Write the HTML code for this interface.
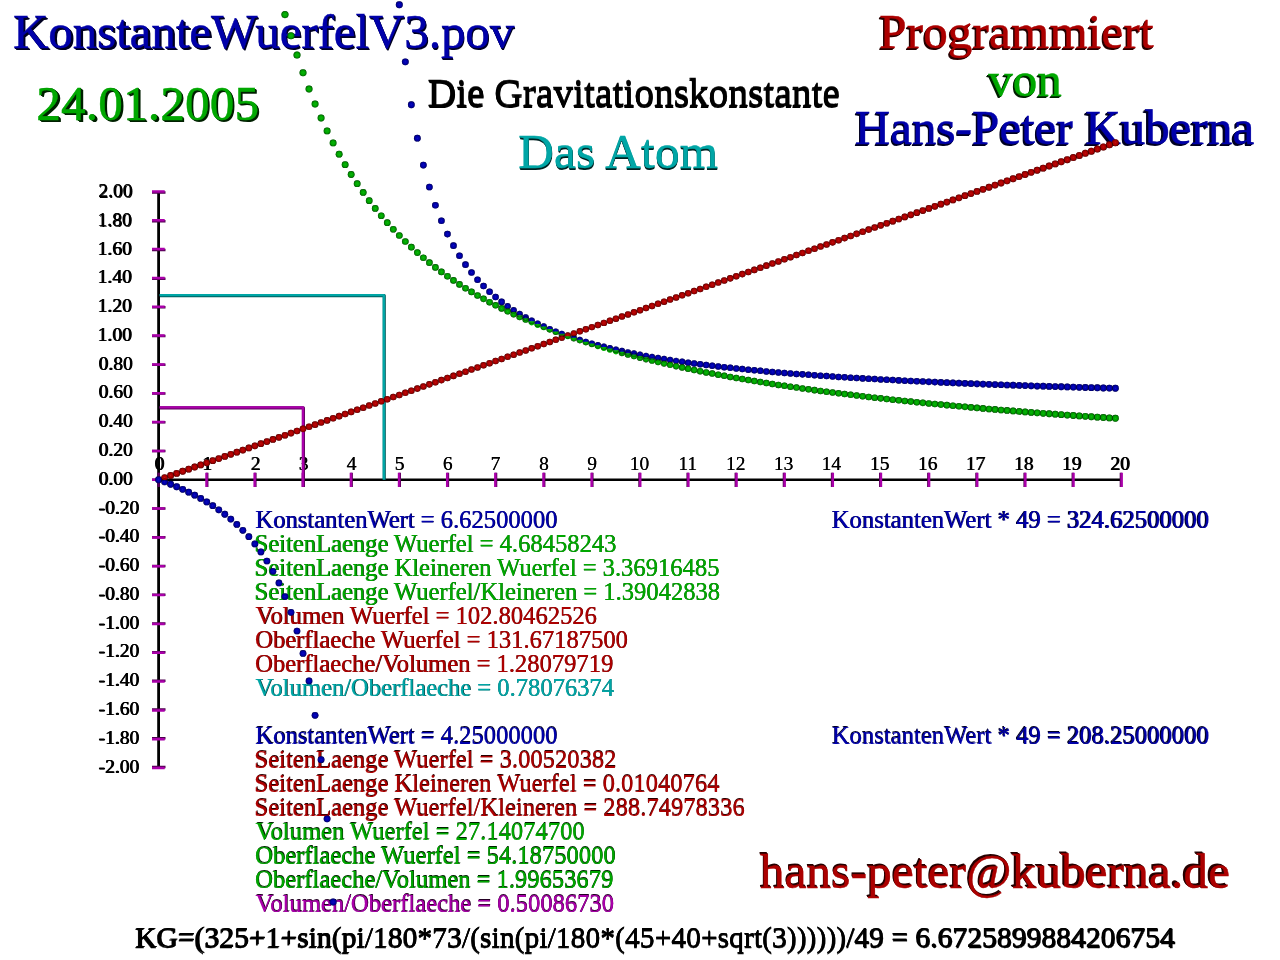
<!DOCTYPE html>
<html lang="de"><head><meta charset="utf-8"><title>KonstanteWuerfelV3.pov</title>
<style>
html,body{margin:0;padding:0;background:#fff}
body{width:1280px;height:960px;position:relative;overflow:hidden;font-family:"Liberation Serif",serif;font-kerning:normal}
.t{position:absolute;line-height:1;white-space:pre;margin:0}
svg{position:absolute;left:0;top:0}
</style></head><body>
<svg width="1280" height="960" viewBox="0 0 1280 960">
<line x1="158.60" y1="191.95" x2="158.60" y2="767.55" stroke="#000" stroke-width="2.8"/><line x1="158.60" y1="479.75" x2="1121.40" y2="479.75" stroke="#000" stroke-width="2.6"/><path d="M207.19 472.65V486.95M255.33 472.65V486.95M303.47 472.65V486.95M351.61 472.65V486.95M399.75 472.65V486.95M447.89 472.65V486.95M496.03 472.65V486.95M544.17 472.65V486.95M592.31 472.65V486.95M639.55 472.65V486.95M687.69 472.65V486.95M735.83 472.65V486.95M783.97 472.65V486.95M832.11 472.65V486.95M880.25 472.65V486.95M928.39 472.65V486.95M976.53 472.65V486.95M1024.67 472.65V486.95M1072.81 472.65V486.95M1120.95 472.65V486.95M152.00 767.05H165.50M152.00 738.32H165.50M152.00 709.59H165.50M152.00 680.86H165.50M152.00 652.13H165.50M152.00 623.40H165.50M152.00 594.67H165.50M152.00 565.94H165.50M152.00 537.21H165.50M152.00 508.48H165.50M152.00 479.75H165.50M152.00 451.02H165.50M152.00 422.29H165.50M152.00 393.56H165.50M152.00 364.83H165.50M152.00 336.10H165.50M152.00 307.37H165.50M152.00 278.64H165.50M152.00 249.91H165.50M152.00 221.18H165.50M152.00 192.45H165.50" stroke="#4c004c" stroke-width="2.5" fill="none"/><path d="M206.52 472.65V486.95M254.66 472.65V486.95M302.79 472.65V486.95M350.93 472.65V486.95M399.07 472.65V486.95M447.22 472.65V486.95M495.36 472.65V486.95M543.50 472.65V486.95M591.63 472.65V486.95M640.23 472.65V486.95M688.37 472.65V486.95M736.51 472.65V486.95M784.65 472.65V486.95M832.79 472.65V486.95M880.93 472.65V486.95M929.07 472.65V486.95M977.21 472.65V486.95M1025.34 472.65V486.95M1073.48 472.65V486.95M1121.62 472.65V486.95M152.00 768.05H164.70M152.00 739.22H164.70M152.00 710.39H164.70M152.00 681.56H164.70M152.00 652.73H164.70M152.00 623.90H164.70M152.00 595.07H164.70M152.00 566.24H164.70M152.00 537.41H164.70M152.00 508.58H164.70M152.00 479.75H164.70M152.00 450.92H164.70M152.00 422.09H164.70M152.00 393.26H164.70M152.00 364.43H164.70M152.00 335.60H164.70M152.00 306.77H164.70M152.00 277.94H164.70M152.00 249.11H164.70M152.00 220.28H164.70M152.00 191.45H164.70" stroke="#aa00aa" stroke-width="2.5" fill="none"/><path d="M158.60 472.65V486.95" stroke="#5d005d" stroke-width="2.6" fill="none"/>
</svg>
<div class="t" style="left:12.88px;top:7.00px;font-size:49.2px;color:#0000aa;-webkit-text-stroke:0.44px #0000aa;letter-spacing:-0.156px;"><span style="text-shadow:0.62px 0.55px 0 #000022,1.24px 1.11px 0 #000022,1.86px 1.66px 0 #000022,2.48px 2.22px 0 #000022">Konstante</span><span style="text-shadow:0.55px 0.74px 0 #000022,1.10px 1.48px 0 #000022,1.64px 2.22px 0 #000022">Wuerfel</span><span style="text-shadow:0.38px 0.74px 0 #000022,0.76px 1.48px 0 #000022,1.13px 2.22px 0 #000022">V3</span><span style="text-shadow:0.26px 0.74px 0 #000022,0.53px 1.48px 0 #000022,0.79px 2.22px 0 #000022">.pov</span></div>
<div class="t" style="left:36.34px;top:79.00px;font-size:49.2px;color:#00a800;-webkit-text-stroke:0.44px #00a800;letter-spacing:0.165px;"><span style="text-shadow:0.67px 0.47px 0 #002000,1.35px 0.94px 0 #002000,2.02px 1.41px 0 #002000,2.69px 1.88px 0 #002000">24.</span><span style="text-shadow:0.60px 0.47px 0 #002000,1.20px 0.94px 0 #002000,1.80px 1.41px 0 #002000,2.40px 1.88px 0 #002000">01.</span><span style="text-shadow:0.67px 0.63px 0 #002000,1.35px 1.25px 0 #002000,2.02px 1.88px 0 #002000">2005</span></div>
<div class="t" style="left:427.47px;top:74.00px;font-size:39.36000000000001px;color:#000000;-webkit-text-stroke:0.35px #000000;letter-spacing:0.021px;"><span style="text-shadow:0.34px 0.77px 0 #000000,0.67px 1.54px 0 #000000">Die </span><span style="text-shadow:0.09px 0.77px 0 #000000,0.18px 1.54px 0 #000000">Gravitations</span><span style="text-shadow:-0.23px 0.77px 0 #000000,-0.47px 1.54px 0 #000000">konstante</span></div>
<div class="t" style="left:518.28px;top:127.00px;font-size:49.2px;color:#00a6a6;-webkit-text-stroke:0.44px #00a6a6;letter-spacing:0.245px;"><span style="text-shadow:0.12px 0.55px 0 #002222,0.24px 1.10px 0 #002222,0.36px 1.65px 0 #002222">Das </span><span style="text-shadow:-0.04px 0.55px 0 #002222,-0.07px 1.10px 0 #002222,-0.11px 1.65px 0 #002222">Atom</span></div>
<div class="t" style="left:879.18px;top:7.00px;font-size:49.2px;color:#ac0000;-webkit-text-stroke:0.44px #ac0000;letter-spacing:0.122px;"><span style="text-shadow:-0.59px 0.74px 0 #260000,-1.18px 1.48px 0 #260000,-1.77px 2.22px 0 #260000">Programmiert</span></div>
<div class="t" style="left:988.17px;top:55.00px;font-size:49.2px;color:#00a800;-webkit-text-stroke:0.44px #00a800;"><span style="text-shadow:-0.60px 0.66px 0 #002000,-1.21px 1.33px 0 #002000,-1.81px 1.99px 0 #002000">von</span></div>
<div class="t" style="left:854.78px;top:103.00px;font-size:49.2px;color:#0000aa;-webkit-text-stroke:0.44px #0000aa;letter-spacing:-0.035px;"><span style="text-shadow:-0.43px 0.59px 0 #000022,-0.86px 1.18px 0 #000022,-1.29px 1.77px 0 #000022">Hans-</span><span style="text-shadow:-0.61px 0.59px 0 #000022,-1.22px 1.18px 0 #000022,-1.83px 1.77px 0 #000022">Peter </span><span style="text-shadow:-0.62px 0.44px 0 #000022,-1.25px 0.88px 0 #000022,-1.87px 1.32px 0 #000022,-2.49px 1.77px 0 #000022">Kuberna</span></div>
<div class="t" style="left:759.92px;top:847.00px;font-size:49.2px;color:#ac0000;-webkit-text-stroke:0.44px #ac0000;letter-spacing:0.144px;"><span style="text-shadow:-0.27px -0.58px 0 #260000,-0.54px -1.15px 0 #260000,-0.82px -1.73px 0 #260000">hans-</span><span style="text-shadow:-0.43px -0.58px 0 #260000,-0.87px -1.15px 0 #260000,-1.30px -1.73px 0 #260000">peter</span><span style="text-shadow:-0.55px -0.58px 0 #260000,-1.09px -1.15px 0 #260000,-1.64px -1.73px 0 #260000">@</span><span style="text-shadow:-0.71px -0.58px 0 #260000,-1.41px -1.15px 0 #260000,-2.12px -1.73px 0 #260000">kuberna</span><span style="text-shadow:-0.66px -0.43px 0 #260000,-1.32px -0.86px 0 #260000,-1.98px -1.30px 0 #260000,-2.64px -1.73px 0 #260000">.de</span></div>
<div class="t" style="left:134.65px;top:924.00px;font-size:29.52px;color:#000000;-webkit-text-stroke:0.27px #000000;letter-spacing:0.069px;"><span style="text-shadow:0.66px -0.61px 0 #000000,1.33px -1.22px 0 #000000">KG=(</span><span style="text-shadow:0.57px -0.61px 0 #000000,1.14px -1.22px 0 #000000">325+</span><span style="text-shadow:0.51px -0.61px 0 #000000,1.01px -1.22px 0 #000000">1+</span><span style="text-shadow:0.45px -0.61px 0 #000000,0.91px -1.22px 0 #000000">sin(</span><span style="text-shadow:0.40px -0.61px 0 #000000,0.80px -1.22px 0 #000000">pi/</span><span style="text-shadow:0.34px -0.61px 0 #000000,0.67px -1.22px 0 #000000">180*</span><span style="text-shadow:0.26px -0.61px 0 #000000,0.52px -1.22px 0 #000000">73/(</span><span style="text-shadow:0.19px -0.61px 0 #000000,0.39px -1.22px 0 #000000">sin(</span><span style="text-shadow:0.14px -0.61px 0 #000000,0.28px -1.22px 0 #000000">pi/</span><span style="text-shadow:0.07px -0.61px 0 #000000,0.14px -1.22px 0 #000000">180*(</span><span style="text-shadow:-0.01px -0.61px 0 #000000,-0.02px -1.22px 0 #000000">45+</span><span style="text-shadow:-0.08px -0.61px 0 #000000,-0.15px -1.22px 0 #000000">40+</span><span style="text-shadow:-0.15px -0.61px 0 #000000,-0.30px -1.22px 0 #000000">sqrt(</span><span style="text-shadow:-0.24px -0.61px 0 #000000,-0.49px -1.22px 0 #000000">3))))))/</span><span style="text-shadow:-0.33px -0.61px 0 #000000,-0.66px -1.22px 0 #000000">49 </span><span style="text-shadow:-0.37px -0.61px 0 #000000,-0.74px -1.22px 0 #000000">= </span><span style="text-shadow:-0.57px -0.61px 0 #000000,-1.14px -1.22px 0 #000000">6.6725899884206754</span></div>
<div class="t" style="left:255.19px;top:508.00px;font-size:24.6px;color:#0000aa;-webkit-text-stroke:0.22px #0000aa;"><span style="text-shadow:0.71px -0.04px 0 #000022">KonstantenWert </span><span style="text-shadow:0.49px -0.04px 0 #000022">= </span><span style="text-shadow:0.33px -0.04px 0 #000022">6.62500000</span></div>
<div class="t" style="left:254.25px;top:532.00px;font-size:24.6px;color:#00a800;-webkit-text-stroke:0.22px #00a800;"><span style="text-shadow:0.74px -0.09px 0 #002000">SeitenLaenge </span><span style="text-shadow:0.48px -0.09px 0 #002000">Wuerfel </span><span style="text-shadow:0.35px -0.09px 0 #002000">= </span><span style="text-shadow:0.19px -0.09px 0 #002000">4.68458243</span></div>
<div class="t" style="left:254.25px;top:556.00px;font-size:24.6px;color:#00a800;-webkit-text-stroke:0.22px #00a800;"><span style="text-shadow:0.74px -0.15px 0 #002000">SeitenLaenge </span><span style="text-shadow:0.46px -0.15px 0 #002000">Kleineren </span><span style="text-shadow:0.23px -0.15px 0 #002000">Wuerfel </span><span style="text-shadow:0.11px -0.15px 0 #002000">= </span><span style="text-shadow:-0.05px -0.15px 0 #002000">3.36916485</span></div>
<div class="t" style="left:254.25px;top:580.00px;font-size:24.6px;color:#00a800;-webkit-text-stroke:0.22px #00a800;"><span style="text-shadow:0.74px -0.21px 0 #002000">SeitenLaenge </span><span style="text-shadow:0.36px -0.21px 0 #002000">Wuerfel/Kleineren </span><span style="text-shadow:0.11px -0.21px 0 #002000">= </span><span style="text-shadow:-0.05px -0.21px 0 #002000">1.39042838</span></div>
<div class="t" style="left:255.62px;top:604.00px;font-size:24.6px;color:#ac0000;-webkit-text-stroke:0.22px #ac0000;"><span style="text-shadow:0.79px -0.26px 0 #260000">Volumen </span><span style="text-shadow:0.58px -0.26px 0 #260000">Wuerfel </span><span style="text-shadow:0.46px -0.26px 0 #260000">= </span><span style="text-shadow:0.27px -0.26px 0 #260000">102.80462526</span></div>
<div class="t" style="left:254.89px;top:628.00px;font-size:24.6px;color:#ac0000;-webkit-text-stroke:0.22px #ac0000;"><span style="text-shadow:0.76px -0.32px 0 #260000">Oberflaeche </span><span style="text-shadow:0.51px -0.32px 0 #260000">Wuerfel </span><span style="text-shadow:0.38px -0.32px 0 #260000">= </span><span style="text-shadow:0.19px -0.32px 0 #260000">131.67187500</span></div>
<div class="t" style="left:254.89px;top:652.00px;font-size:24.6px;color:#ac0000;-webkit-text-stroke:0.22px #ac0000;"><span style="text-shadow:0.64px -0.37px 0 #260000">Oberflaeche/Volumen </span><span style="text-shadow:0.36px -0.37px 0 #260000">= </span><span style="text-shadow:0.20px -0.37px 0 #260000">1.28079719</span></div>
<div class="t" style="left:255.62px;top:676.00px;font-size:24.6px;color:#00a6a6;-webkit-text-stroke:0.22px #00a6a6;"><span style="text-shadow:0.64px -0.43px 0 #002222">Volumen/Oberflaeche </span><span style="text-shadow:0.36px -0.43px 0 #002222">= </span><span style="text-shadow:0.20px -0.43px 0 #002222">0.78076374</span></div>
<div class="t" style="left:255.19px;top:724.00px;font-size:24.6px;color:#0000aa;-webkit-text-stroke:0.22px #0000aa;"><span style="text-shadow:0.71px -0.54px 0 #000022">KonstantenWert </span><span style="text-shadow:0.49px -0.54px 0 #000022">= </span><span style="text-shadow:0.33px -0.54px 0 #000022">4.25000000</span></div>
<div class="t" style="left:254.25px;top:748.00px;font-size:24.6px;color:#ac0000;-webkit-text-stroke:0.22px #ac0000;"><span style="text-shadow:0.74px -0.60px 0 #260000">SeitenLaenge </span><span style="text-shadow:0.48px -0.60px 0 #260000">Wuerfel </span><span style="text-shadow:0.35px -0.60px 0 #260000">= </span><span style="text-shadow:0.19px -0.60px 0 #260000">3.00520382</span></div>
<div class="t" style="left:254.25px;top:772.00px;font-size:24.6px;color:#ac0000;-webkit-text-stroke:0.22px #ac0000;"><span style="text-shadow:0.74px -0.66px 0 #260000">SeitenLaenge </span><span style="text-shadow:0.46px -0.66px 0 #260000">Kleineren </span><span style="text-shadow:0.23px -0.66px 0 #260000">Wuerfel </span><span style="text-shadow:0.11px -0.66px 0 #260000">= </span><span style="text-shadow:-0.05px -0.66px 0 #260000">0.01040764</span></div>
<div class="t" style="left:254.25px;top:796.00px;font-size:24.6px;color:#ac0000;-webkit-text-stroke:0.22px #ac0000;"><span style="text-shadow:0.74px -0.71px 0 #260000">SeitenLaenge </span><span style="text-shadow:0.36px -0.71px 0 #260000">Wuerfel/Kleineren </span><span style="text-shadow:0.11px -0.71px 0 #260000">= </span><span style="text-shadow:-0.08px -0.71px 0 #260000">288.74978336</span></div>
<div class="t" style="left:255.62px;top:820.00px;font-size:24.6px;color:#00a800;-webkit-text-stroke:0.22px #00a800;"><span style="text-shadow:0.79px -0.77px 0 #002000">Volumen </span><span style="text-shadow:0.58px -0.77px 0 #002000">Wuerfel </span><span style="text-shadow:0.46px -0.77px 0 #002000">= </span><span style="text-shadow:0.28px -0.77px 0 #002000">27.14074700</span></div>
<div class="t" style="left:254.89px;top:844.00px;font-size:24.6px;color:#00a800;-webkit-text-stroke:0.22px #00a800;"><span style="text-shadow:0.38px -0.41px 0 #002000,0.76px -0.83px 0 #002000">Oberflaeche </span><span style="text-shadow:0.25px -0.41px 0 #002000,0.51px -0.83px 0 #002000">Wuerfel </span><span style="text-shadow:0.19px -0.41px 0 #002000,0.38px -0.83px 0 #002000">= </span><span style="text-shadow:0.10px -0.41px 0 #002000,0.21px -0.83px 0 #002000">54.18750000</span></div>
<div class="t" style="left:254.89px;top:868.00px;font-size:24.6px;color:#00a800;-webkit-text-stroke:0.22px #00a800;"><span style="text-shadow:0.32px -0.44px 0 #002000,0.64px -0.88px 0 #002000">Oberflaeche/Volumen </span><span style="text-shadow:0.18px -0.44px 0 #002000,0.36px -0.88px 0 #002000">= </span><span style="text-shadow:0.10px -0.44px 0 #002000,0.20px -0.88px 0 #002000">1.99653679</span></div>
<div class="t" style="left:255.62px;top:892.00px;font-size:24.6px;color:#aa00aa;-webkit-text-stroke:0.22px #aa00aa;"><span style="text-shadow:0.32px -0.47px 0 #240024,0.64px -0.94px 0 #240024">Volumen/Oberflaeche </span><span style="text-shadow:0.18px -0.47px 0 #240024,0.36px -0.94px 0 #240024">= </span><span style="text-shadow:0.10px -0.47px 0 #240024,0.20px -0.94px 0 #240024">0.50086730</span></div>
<div class="t" style="left:832.09px;top:508.00px;font-size:24.6px;color:#0000aa;-webkit-text-stroke:0.22px #0000aa;letter-spacing:0.036px;"><span style="text-shadow:-0.65px -0.04px 0 #000022">KonstantenWert </span><span style="text-shadow:-0.43px -0.02px 0 #000022,-0.86px -0.04px 0 #000022">* </span><span style="text-shadow:-0.46px -0.02px 0 #000022,-0.92px -0.04px 0 #000022">49 </span><span style="text-shadow:-0.49px -0.02px 0 #000022,-0.98px -0.04px 0 #000022">= </span><span style="text-shadow:-0.59px -0.02px 0 #000022,-1.17px -0.04px 0 #000022">324.62500000</span></div>
<div class="t" style="left:832.09px;top:724.00px;font-size:24.6px;color:#0000aa;-webkit-text-stroke:0.22px #0000aa;letter-spacing:0.036px;"><span style="text-shadow:-0.65px -0.54px 0 #000022">KonstantenWert </span><span style="text-shadow:-0.43px -0.27px 0 #000022,-0.86px -0.54px 0 #000022">* </span><span style="text-shadow:-0.46px -0.27px 0 #000022,-0.92px -0.54px 0 #000022">49 </span><span style="text-shadow:-0.49px -0.27px 0 #000022,-0.98px -0.54px 0 #000022">= </span><span style="text-shadow:-0.59px -0.27px 0 #000022,-1.17px -0.54px 0 #000022">208.25000000</span></div>
<div class="t" style="left:98.28px;top:757.00px;font-size:19.5px;color:#000000;-webkit-text-stroke:0.04px #000000;"><span style="text-shadow:0.49px -0.24px 0 #000000,0.97px -0.49px 0 #000000">-2.00</span></div>
<div class="t" style="left:98.28px;top:728.00px;font-size:19.5px;color:#000000;-webkit-text-stroke:0.04px #000000;"><span style="text-shadow:0.49px -0.22px 0 #000000,0.97px -0.43px 0 #000000">-1.80</span></div>
<div class="t" style="left:98.28px;top:699.00px;font-size:19.5px;color:#000000;-webkit-text-stroke:0.04px #000000;"><span style="text-shadow:0.49px -0.19px 0 #000000,0.97px -0.38px 0 #000000">-1.60</span></div>
<div class="t" style="left:98.28px;top:670.00px;font-size:19.5px;color:#000000;-webkit-text-stroke:0.04px #000000;"><span style="text-shadow:0.49px -0.16px 0 #000000,0.97px -0.33px 0 #000000">-1.40</span></div>
<div class="t" style="left:98.28px;top:641.00px;font-size:19.5px;color:#000000;-webkit-text-stroke:0.04px #000000;"><span style="text-shadow:0.49px -0.14px 0 #000000,0.97px -0.27px 0 #000000">-1.20</span></div>
<div class="t" style="left:98.28px;top:613.00px;font-size:19.5px;color:#000000;-webkit-text-stroke:0.04px #000000;"><span style="text-shadow:0.49px -0.11px 0 #000000,0.97px -0.22px 0 #000000">-1.00</span></div>
<div class="t" style="left:98.28px;top:584.00px;font-size:19.5px;color:#000000;-webkit-text-stroke:0.04px #000000;"><span style="text-shadow:0.49px -0.08px 0 #000000,0.97px -0.17px 0 #000000">-0.80</span></div>
<div class="t" style="left:98.28px;top:555.00px;font-size:19.5px;color:#000000;-webkit-text-stroke:0.04px #000000;"><span style="text-shadow:0.49px -0.06px 0 #000000,0.97px -0.11px 0 #000000">-0.60</span></div>
<div class="t" style="left:98.28px;top:526.00px;font-size:19.5px;color:#000000;-webkit-text-stroke:0.04px #000000;"><span style="text-shadow:0.49px -0.03px 0 #000000,0.97px -0.06px 0 #000000">-0.40</span></div>
<div class="t" style="left:98.28px;top:498.00px;font-size:19.5px;color:#000000;-webkit-text-stroke:0.04px #000000;"><span style="text-shadow:0.49px -0.00px 0 #000000,0.97px -0.00px 0 #000000">-0.20</span></div>
<div class="t" style="left:98.26px;top:469.00px;font-size:19.5px;color:#000000;-webkit-text-stroke:0.04px #000000;"><span style="text-shadow:0.49px 0.02px 0 #000000,0.98px 0.05px 0 #000000">0.00</span></div>
<div class="t" style="left:98.26px;top:440.00px;font-size:19.5px;color:#000000;-webkit-text-stroke:0.04px #000000;"><span style="text-shadow:0.49px 0.05px 0 #000000,0.98px 0.10px 0 #000000">0.20</span></div>
<div class="t" style="left:98.26px;top:411.00px;font-size:19.5px;color:#000000;-webkit-text-stroke:0.04px #000000;"><span style="text-shadow:0.49px 0.08px 0 #000000,0.98px 0.16px 0 #000000">0.40</span></div>
<div class="t" style="left:98.26px;top:382.00px;font-size:19.5px;color:#000000;-webkit-text-stroke:0.04px #000000;"><span style="text-shadow:0.49px 0.10px 0 #000000,0.98px 0.21px 0 #000000">0.60</span></div>
<div class="t" style="left:98.26px;top:354.00px;font-size:19.5px;color:#000000;-webkit-text-stroke:0.04px #000000;"><span style="text-shadow:0.49px 0.13px 0 #000000,0.98px 0.26px 0 #000000">0.80</span></div>
<div class="t" style="left:97.29px;top:325.00px;font-size:19.5px;color:#000000;-webkit-text-stroke:0.04px #000000;"><span style="text-shadow:0.49px 0.16px 0 #000000,0.98px 0.32px 0 #000000">1.00</span></div>
<div class="t" style="left:97.29px;top:296.00px;font-size:19.5px;color:#000000;-webkit-text-stroke:0.04px #000000;"><span style="text-shadow:0.49px 0.19px 0 #000000,0.98px 0.37px 0 #000000">1.20</span></div>
<div class="t" style="left:97.29px;top:267.00px;font-size:19.5px;color:#000000;-webkit-text-stroke:0.04px #000000;"><span style="text-shadow:0.49px 0.21px 0 #000000,0.98px 0.42px 0 #000000">1.40</span></div>
<div class="t" style="left:97.29px;top:239.00px;font-size:19.5px;color:#000000;-webkit-text-stroke:0.04px #000000;"><span style="text-shadow:0.49px 0.24px 0 #000000,0.98px 0.48px 0 #000000">1.60</span></div>
<div class="t" style="left:97.29px;top:210.00px;font-size:19.5px;color:#000000;-webkit-text-stroke:0.04px #000000;"><span style="text-shadow:0.49px 0.27px 0 #000000,0.98px 0.53px 0 #000000">1.80</span></div>
<div class="t" style="left:98.14px;top:181.00px;font-size:19.5px;color:#000000;-webkit-text-stroke:0.04px #000000;"><span style="text-shadow:0.49px 0.29px 0 #000000,0.98px 0.58px 0 #000000">2.00</span></div>
<div class="t" style="left:154.30px;top:454.00px;font-size:19.5px;color:#000000;-webkit-text-stroke:0.04px #000000;"><span style="text-shadow:0.45px 0.04px 0 #000000,0.90px 0.08px 0 #000000">0</span></div>
<div class="t" style="left:202.11px;top:454.00px;font-size:19.5px;color:#000000;-webkit-text-stroke:0.04px #000000;"><span style="text-shadow:0.40px 0.04px 0 #000000,0.81px 0.08px 0 #000000">1</span></div>
<div class="t" style="left:250.58px;top:454.00px;font-size:19.5px;color:#000000;-webkit-text-stroke:0.04px #000000;"><span style="text-shadow:0.72px 0.08px 0 #000000">2</span></div>
<div class="t" style="left:298.46px;top:454.00px;font-size:19.5px;color:#000000;-webkit-text-stroke:0.04px #000000;"><span style="text-shadow:0.63px 0.08px 0 #000000">3</span></div>
<div class="t" style="left:346.59px;top:454.00px;font-size:19.5px;color:#000000;-webkit-text-stroke:0.04px #000000;"><span style="text-shadow:0.54px 0.08px 0 #000000">4</span></div>
<div class="t" style="left:394.53px;top:454.00px;font-size:19.5px;color:#000000;-webkit-text-stroke:0.04px #000000;"><span style="text-shadow:0.45px 0.08px 0 #000000">5</span></div>
<div class="t" style="left:442.67px;top:454.00px;font-size:19.5px;color:#000000;-webkit-text-stroke:0.04px #000000;"><span style="text-shadow:0.36px 0.08px 0 #000000">6</span></div>
<div class="t" style="left:490.52px;top:454.00px;font-size:19.5px;color:#000000;-webkit-text-stroke:0.04px #000000;"><span style="text-shadow:0.27px 0.08px 0 #000000">7</span></div>
<div class="t" style="left:538.96px;top:454.00px;font-size:19.5px;color:#000000;-webkit-text-stroke:0.04px #000000;"><span style="text-shadow:0.18px 0.08px 0 #000000">8</span></div>
<div class="t" style="left:587.13px;top:454.00px;font-size:19.5px;color:#000000;-webkit-text-stroke:0.04px #000000;"><span style="text-shadow:0.09px 0.08px 0 #000000">9</span></div>
<div class="t" style="left:629.76px;top:454.00px;font-size:19.5px;color:#000000;-webkit-text-stroke:0.04px #000000;"><span style="text-shadow:0.00px 0.08px 0 #000000">10</span></div>
<div class="t" style="left:678.42px;top:454.00px;font-size:19.5px;color:#000000;-webkit-text-stroke:0.04px #000000;"><span style="text-shadow:-0.09px 0.08px 0 #000000">11</span></div>
<div class="t" style="left:726.10px;top:454.00px;font-size:19.5px;color:#000000;-webkit-text-stroke:0.04px #000000;"><span style="text-shadow:-0.18px 0.08px 0 #000000">12</span></div>
<div class="t" style="left:774.02px;top:454.00px;font-size:19.5px;color:#000000;-webkit-text-stroke:0.04px #000000;"><span style="text-shadow:-0.27px 0.08px 0 #000000">13</span></div>
<div class="t" style="left:821.87px;top:454.00px;font-size:19.5px;color:#000000;-webkit-text-stroke:0.04px #000000;"><span style="text-shadow:-0.36px 0.08px 0 #000000">14</span></div>
<div class="t" style="left:870.19px;top:454.00px;font-size:19.5px;color:#000000;-webkit-text-stroke:0.04px #000000;"><span style="text-shadow:-0.45px 0.08px 0 #000000">15</span></div>
<div class="t" style="left:918.18px;top:454.00px;font-size:19.5px;color:#000000;-webkit-text-stroke:0.04px #000000;"><span style="text-shadow:-0.54px 0.08px 0 #000000">16</span></div>
<div class="t" style="left:966.25px;top:454.00px;font-size:19.5px;color:#000000;-webkit-text-stroke:0.04px #000000;"><span style="text-shadow:-0.63px 0.08px 0 #000000">17</span></div>
<div class="t" style="left:1014.42px;top:454.00px;font-size:19.5px;color:#000000;-webkit-text-stroke:0.04px #000000;"><span style="text-shadow:-0.72px 0.08px 0 #000000">18</span></div>
<div class="t" style="left:1062.53px;top:454.00px;font-size:19.5px;color:#000000;-webkit-text-stroke:0.04px #000000;"><span style="text-shadow:-0.40px 0.04px 0 #000000,-0.81px 0.08px 0 #000000">19</span></div>
<div class="t" style="left:1111.02px;top:454.00px;font-size:19.5px;color:#000000;-webkit-text-stroke:0.04px #000000;"><span style="text-shadow:-0.45px 0.04px 0 #000000,-0.90px 0.08px 0 #000000">20</span></div>
<svg width="1280" height="960" viewBox="0 0 1280 960">
<path d="M159.80 295.44H384.12V479.75" fill="none" stroke="#005b5b" stroke-width="3.1" stroke-linejoin="round" transform="translate(0.15 0.15)"/><path d="M159.80 295.44H384.12V479.75" fill="none" stroke="#00a6a6" stroke-width="2.3" stroke-linejoin="round" transform="translate(-0.3 -0.3)"/><path d="M159.80 407.68H303.27V486.95" fill="none" stroke="#5d005d" stroke-width="3.1" stroke-linejoin="round" transform="translate(0.15 0.15)"/><path d="M159.80 407.68H303.27V486.95" fill="none" stroke="#aa00aa" stroke-width="2.3" stroke-linejoin="round" transform="translate(-0.3 -0.3)"/>
<defs><radialGradient id="sh" cx="50%" cy="50%" r="50%"><stop offset="0" stop-color="#fff" stop-opacity="0.10"/><stop offset="0.45" stop-color="#000" stop-opacity="0"/><stop offset="0.8" stop-color="#000" stop-opacity="0.22"/><stop offset="1" stop-color="#000" stop-opacity="0.62"/></radialGradient></defs><g fill="#0000b6"><circle cx="158.60" cy="479.75" r="3.44"/><path d="M162.21 479.48L167.02 479.48A3.44 3.44 0 0 1 164.62 485.37L164.62 485.37A3.44 3.44 0 0 1 162.21 479.48Z"/><circle cx="170.63" cy="484.26" r="3.43"/><circle cx="176.65" cy="486.73" r="3.43"/><circle cx="182.67" cy="489.36" r="3.42"/><circle cx="188.69" cy="492.18" r="3.41"/><circle cx="194.70" cy="495.20" r="3.41"/><circle cx="200.72" cy="498.44" r="3.40"/><circle cx="206.74" cy="501.94" r="3.40"/><circle cx="212.76" cy="505.71" r="3.39"/><circle cx="218.77" cy="509.80" r="3.39"/><circle cx="224.79" cy="514.25" r="3.39"/><circle cx="230.81" cy="519.10" r="3.38"/><circle cx="236.83" cy="524.42" r="3.38"/><circle cx="242.84" cy="530.26" r="3.37"/><circle cx="248.86" cy="536.73" r="3.37"/><circle cx="254.88" cy="543.92" r="3.37"/><circle cx="260.90" cy="551.95" r="3.36"/><circle cx="266.91" cy="560.99" r="3.36"/><circle cx="272.93" cy="571.25" r="3.36"/><circle cx="278.95" cy="582.97" r="3.35"/><circle cx="284.97" cy="596.51" r="3.35"/><circle cx="290.99" cy="612.31" r="3.35"/><circle cx="297.00" cy="631.00" r="3.35"/><circle cx="303.02" cy="653.45" r="3.36"/><circle cx="309.04" cy="680.93" r="3.36"/><circle cx="315.06" cy="715.32" r="3.37"/><circle cx="321.07" cy="759.63" r="3.39"/><circle cx="327.09" cy="818.84" r="3.42"/><circle cx="333.11" cy="902.03" r="3.48"/><circle cx="399.30" cy="4.74" r="3.49"/><circle cx="405.32" cy="61.84" r="3.44"/><circle cx="411.34" cy="104.77" r="3.40"/><circle cx="417.35" cy="138.22" r="3.38"/><circle cx="423.37" cy="165.02" r="3.36"/><circle cx="429.39" cy="186.98" r="3.34"/><circle cx="435.40" cy="205.29" r="3.33"/><circle cx="441.42" cy="220.80" r="3.32"/><circle cx="447.44" cy="234.10" r="3.31"/><circle cx="453.46" cy="245.63" r="3.31"/><circle cx="459.48" cy="255.73" r="3.30"/><circle cx="465.49" cy="264.64" r="3.29"/><circle cx="471.51" cy="272.57" r="3.29"/><circle cx="477.53" cy="279.67" r="3.28"/><circle cx="483.54" cy="286.06" r="3.28"/><circle cx="489.56" cy="291.84" r="3.28"/><circle cx="495.58" cy="297.09" r="3.27"/><circle cx="501.60" cy="301.89" r="3.27"/><path d="M507.61 303.03L507.62 303.03A3.27 3.27 0 0 1 509.27 309.11L505.96 309.11A3.27 3.27 0 0 1 507.61 303.03Z"/><path d="M513.63 307.08L513.63 307.08A3.26 3.26 0 0 1 516.02 312.57L511.24 312.57A3.26 3.26 0 0 1 513.63 307.08Z"/><path d="M519.65 310.83L519.65 310.83A3.26 3.26 0 0 1 522.41 315.82L516.89 315.82A3.26 3.26 0 0 1 519.65 310.83Z"/><path d="M525.67 314.29L525.67 314.29A3.26 3.26 0 0 1 528.64 318.88L522.69 318.88A3.26 3.26 0 0 1 525.67 314.29Z"/><path d="M531.68 317.51L531.69 317.51A3.26 3.26 0 0 1 534.78 321.78L528.59 321.78A3.26 3.26 0 0 1 531.68 317.51Z"/><path d="M537.70 320.51L537.70 320.51A3.25 3.25 0 0 1 540.86 324.53L534.54 324.53A3.25 3.25 0 0 1 537.70 320.51Z"/><path d="M543.72 323.31L543.72 323.31A3.25 3.25 0 0 1 546.92 327.14L540.52 327.14A3.25 3.25 0 0 1 543.72 323.31Z"/><path d="M549.74 325.92L549.74 325.92A3.25 3.25 0 0 1 552.96 329.62L546.52 329.62A3.25 3.25 0 0 1 549.74 325.92Z"/><path d="M555.75 328.38L555.76 328.38A3.25 3.25 0 0 1 558.98 331.99L552.53 331.99A3.25 3.25 0 0 1 555.75 328.38Z"/><path d="M561.77 330.68L561.77 330.68A3.25 3.25 0 0 1 565.00 334.24L558.54 334.24A3.25 3.25 0 0 1 561.77 330.68Z"/><path d="M564.59 335.55L570.99 335.55A3.24 3.24 0 0 1 571.02 336.40L564.56 336.40A3.24 3.24 0 0 1 564.59 335.55Z"/><path d="M571.91 335.51L575.70 335.51A3.24 3.24 0 0 1 577.04 338.46L570.58 338.46A3.24 3.24 0 0 1 571.91 335.51Z"/><path d="M579.83 336.83L579.83 336.83A3.24 3.24 0 0 1 583.05 340.44L576.60 340.44A3.24 3.24 0 0 1 579.83 336.83Z"/><path d="M585.84 338.66L585.84 338.66A3.24 3.24 0 0 1 589.05 342.34L582.63 342.34A3.24 3.24 0 0 1 585.84 338.66Z"/><path d="M591.86 340.39L591.86 340.39A3.24 3.24 0 0 1 595.06 344.16L588.66 344.16A3.24 3.24 0 0 1 591.86 340.39Z"/><path d="M597.88 342.04L597.88 342.04A3.24 3.24 0 0 1 601.05 345.91L594.70 345.91A3.24 3.24 0 0 1 597.88 342.04Z"/><path d="M603.89 343.60L603.89 343.60A3.24 3.24 0 0 1 607.04 347.59L600.75 347.59A3.24 3.24 0 0 1 603.89 343.60Z"/><path d="M609.91 345.09L609.91 345.09A3.24 3.24 0 0 1 613.02 349.21L606.80 349.21A3.24 3.24 0 0 1 609.91 345.09Z"/><path d="M615.93 346.50L615.93 346.50A3.24 3.24 0 0 1 618.99 350.78L612.87 350.78A3.24 3.24 0 0 1 615.93 346.50Z"/><path d="M621.95 347.85L621.95 347.85A3.24 3.24 0 0 1 624.95 352.29L618.94 352.29A3.24 3.24 0 0 1 621.95 347.85Z"/><path d="M627.97 349.14L627.97 349.14A3.24 3.24 0 0 1 630.90 353.74L625.03 353.74A3.24 3.24 0 0 1 627.97 349.14Z"/><path d="M633.98 350.37L633.98 350.37A3.24 3.24 0 0 1 636.82 355.15L631.14 355.15A3.24 3.24 0 0 1 633.98 350.37Z"/><path d="M640.00 351.54L640.00 351.54A3.23 3.23 0 0 1 642.73 356.51L637.27 356.51A3.23 3.23 0 0 1 640.00 351.54Z"/><path d="M646.02 352.67L646.02 352.67A3.23 3.23 0 0 1 648.62 357.83L643.42 357.83A3.23 3.23 0 0 1 646.02 352.67Z"/><path d="M652.03 353.75L652.03 353.75A3.23 3.23 0 0 1 654.48 359.11L649.59 359.11A3.23 3.23 0 0 1 652.03 353.75Z"/><path d="M658.05 354.79L658.05 354.79A3.23 3.23 0 0 1 660.31 360.34L655.80 360.34A3.23 3.23 0 0 1 658.05 354.79Z"/><path d="M664.07 355.78L664.07 355.78A3.23 3.23 0 0 1 666.09 361.54L662.05 361.54A3.23 3.23 0 0 1 664.07 355.78Z"/><path d="M670.09 356.74L670.09 356.74A3.23 3.23 0 0 1 671.82 362.70L668.35 362.70A3.23 3.23 0 0 1 670.09 356.74Z"/><path d="M676.10 357.66L676.11 357.66A3.23 3.23 0 0 1 677.46 363.83L674.75 363.83A3.23 3.23 0 0 1 676.10 357.66Z"/><path d="M682.12 358.54L682.12 358.54A3.24 3.24 0 0 1 682.87 364.92L681.38 364.92A3.24 3.24 0 0 1 682.12 358.54Z"/><circle cx="688.14" cy="362.63" r="3.24"/><circle cx="694.16" cy="363.45" r="3.24"/><circle cx="700.18" cy="364.24" r="3.24"/><circle cx="706.19" cy="365.00" r="3.24"/><circle cx="712.21" cy="365.74" r="3.24"/><circle cx="718.23" cy="366.45" r="3.24"/><circle cx="724.25" cy="367.14" r="3.24"/><circle cx="730.26" cy="367.80" r="3.24"/><circle cx="736.28" cy="368.45" r="3.24"/><circle cx="742.30" cy="369.07" r="3.24"/><circle cx="748.32" cy="369.68" r="3.24"/><circle cx="754.33" cy="370.26" r="3.24"/><circle cx="760.35" cy="370.83" r="3.25"/><circle cx="766.37" cy="371.38" r="3.25"/><circle cx="772.38" cy="371.92" r="3.25"/><circle cx="778.40" cy="372.44" r="3.25"/><circle cx="784.42" cy="372.94" r="3.25"/><circle cx="790.44" cy="373.43" r="3.25"/><circle cx="796.46" cy="373.91" r="3.25"/><circle cx="802.47" cy="374.37" r="3.26"/><circle cx="808.49" cy="374.83" r="3.26"/><circle cx="814.51" cy="375.26" r="3.26"/><circle cx="820.52" cy="375.69" r="3.26"/><circle cx="826.54" cy="376.11" r="3.26"/><circle cx="832.56" cy="376.52" r="3.27"/><circle cx="838.58" cy="376.91" r="3.27"/><circle cx="844.60" cy="377.30" r="3.27"/><circle cx="850.61" cy="377.67" r="3.27"/><circle cx="856.63" cy="378.04" r="3.27"/><circle cx="862.65" cy="378.40" r="3.28"/><circle cx="868.67" cy="378.75" r="3.28"/><circle cx="874.68" cy="379.09" r="3.28"/><circle cx="880.70" cy="379.42" r="3.28"/><circle cx="886.72" cy="379.75" r="3.29"/><circle cx="892.74" cy="380.07" r="3.29"/><circle cx="898.75" cy="380.38" r="3.29"/><circle cx="904.77" cy="380.68" r="3.30"/><circle cx="910.79" cy="380.98" r="3.30"/><circle cx="916.81" cy="381.27" r="3.30"/><circle cx="922.82" cy="381.56" r="3.31"/><circle cx="928.84" cy="381.84" r="3.31"/><circle cx="934.86" cy="382.11" r="3.31"/><circle cx="940.88" cy="382.38" r="3.32"/><circle cx="946.89" cy="382.64" r="3.32"/><circle cx="952.91" cy="382.90" r="3.32"/><circle cx="958.93" cy="383.15" r="3.33"/><circle cx="964.95" cy="383.39" r="3.33"/><circle cx="970.96" cy="383.64" r="3.33"/><circle cx="976.98" cy="383.87" r="3.34"/><circle cx="983.00" cy="384.10" r="3.34"/><circle cx="989.01" cy="384.33" r="3.35"/><circle cx="995.03" cy="384.56" r="3.35"/><circle cx="1001.05" cy="384.77" r="3.35"/><circle cx="1007.07" cy="384.99" r="3.36"/><circle cx="1013.09" cy="385.20" r="3.36"/><circle cx="1019.10" cy="385.41" r="3.37"/><circle cx="1025.12" cy="385.61" r="3.37"/><circle cx="1031.14" cy="385.81" r="3.37"/><circle cx="1037.15" cy="386.01" r="3.38"/><circle cx="1043.17" cy="386.20" r="3.38"/><circle cx="1049.19" cy="386.39" r="3.39"/><circle cx="1055.21" cy="386.58" r="3.39"/><circle cx="1061.22" cy="386.76" r="3.40"/><circle cx="1067.24" cy="386.94" r="3.40"/><circle cx="1073.26" cy="387.11" r="3.41"/><circle cx="1079.28" cy="387.29" r="3.41"/><circle cx="1085.30" cy="387.46" r="3.42"/><circle cx="1091.31" cy="387.63" r="3.42"/><circle cx="1097.33" cy="387.79" r="3.43"/><circle cx="1103.35" cy="387.96" r="3.43"/><circle cx="1109.37" cy="388.12" r="3.44"/><circle cx="1115.38" cy="388.27" r="3.44"/></g><g fill="#00ae00"><circle cx="284.97" cy="14.59" r="3.55"/><circle cx="290.99" cy="35.74" r="3.52"/><circle cx="297.00" cy="55.04" r="3.50"/><circle cx="303.02" cy="72.74" r="3.49"/><circle cx="309.04" cy="89.02" r="3.47"/><circle cx="315.06" cy="104.05" r="3.46"/><circle cx="321.07" cy="117.96" r="3.44"/><circle cx="327.09" cy="130.88" r="3.43"/><circle cx="333.11" cy="142.91" r="3.42"/><circle cx="339.12" cy="154.14" r="3.41"/><circle cx="345.14" cy="164.64" r="3.40"/><circle cx="351.16" cy="174.49" r="3.39"/><circle cx="357.18" cy="183.74" r="3.38"/><circle cx="363.19" cy="192.45" r="3.37"/><circle cx="369.21" cy="200.66" r="3.36"/><circle cx="375.23" cy="208.41" r="3.36"/><circle cx="381.25" cy="215.74" r="3.35"/><circle cx="387.26" cy="222.69" r="3.34"/><circle cx="393.28" cy="229.28" r="3.34"/><circle cx="399.30" cy="235.54" r="3.33"/><circle cx="405.32" cy="241.50" r="3.33"/><circle cx="411.34" cy="247.17" r="3.32"/><circle cx="417.35" cy="252.58" r="3.32"/><circle cx="423.37" cy="257.74" r="3.31"/><circle cx="429.39" cy="262.68" r="3.31"/><circle cx="435.40" cy="267.40" r="3.30"/><circle cx="441.42" cy="271.91" r="3.30"/><circle cx="447.44" cy="276.24" r="3.30"/><circle cx="453.46" cy="280.40" r="3.29"/><circle cx="459.48" cy="284.38" r="3.29"/><circle cx="465.49" cy="288.22" r="3.28"/><circle cx="471.51" cy="291.90" r="3.28"/><circle cx="477.53" cy="295.44" r="3.28"/><circle cx="483.54" cy="298.86" r="3.27"/><circle cx="489.56" cy="302.15" r="3.27"/><circle cx="495.58" cy="305.32" r="3.27"/><circle cx="501.60" cy="308.38" r="3.27"/><path d="M505.97 308.51L509.26 308.51A3.26 3.26 0 0 1 507.62 314.60L507.61 314.60A3.26 3.26 0 0 1 505.97 308.51Z"/><path d="M511.24 311.97L516.02 311.97A3.26 3.26 0 0 1 513.63 317.45L513.63 317.45A3.26 3.26 0 0 1 511.24 311.97Z"/><path d="M516.89 315.22L522.41 315.22A3.26 3.26 0 0 1 519.65 320.20L519.65 320.20A3.26 3.26 0 0 1 516.89 315.22Z"/><path d="M522.70 318.28L528.64 318.28A3.26 3.26 0 0 1 525.67 322.87L525.67 322.87A3.26 3.26 0 0 1 522.70 318.28Z"/><path d="M528.59 321.18L534.78 321.18A3.25 3.25 0 0 1 531.68 325.45L531.68 325.45A3.25 3.25 0 0 1 528.59 321.18Z"/><path d="M534.54 323.93L540.86 323.93A3.25 3.25 0 0 1 537.70 327.95L537.70 327.95A3.25 3.25 0 0 1 534.54 323.93Z"/><path d="M540.52 326.54L546.92 326.54A3.25 3.25 0 0 1 543.72 330.37L543.72 330.37A3.25 3.25 0 0 1 540.52 326.54Z"/><path d="M546.52 329.02L552.96 329.02A3.25 3.25 0 0 1 549.74 332.72L549.74 332.72A3.25 3.25 0 0 1 546.52 329.02Z"/><path d="M552.53 331.39L558.98 331.39A3.25 3.25 0 0 1 555.76 334.99L555.75 334.99A3.25 3.25 0 0 1 552.53 331.39Z"/><path d="M558.54 333.64L565.00 333.64A3.25 3.25 0 0 1 564.18 336.14L559.37 336.14A3.25 3.25 0 0 1 558.54 333.64Z"/><path d="M564.56 335.80L571.02 335.80A3.24 3.24 0 0 1 567.79 339.34L567.79 339.34A3.24 3.24 0 0 1 564.56 335.80Z"/><path d="M570.58 337.86L577.04 337.86A3.24 3.24 0 0 1 573.81 341.42L573.81 341.42A3.24 3.24 0 0 1 570.58 337.86Z"/><path d="M576.60 339.84L583.05 339.84A3.24 3.24 0 0 1 579.83 343.45L579.82 343.45A3.24 3.24 0 0 1 576.60 339.84Z"/><path d="M582.63 341.74L589.05 341.74A3.24 3.24 0 0 1 585.84 345.41L585.84 345.41A3.24 3.24 0 0 1 582.63 341.74Z"/><path d="M588.66 343.56L595.06 343.56A3.24 3.24 0 0 1 591.86 347.32L591.86 347.32A3.24 3.24 0 0 1 588.66 343.56Z"/><path d="M594.70 345.31L601.05 345.31A3.24 3.24 0 0 1 597.88 349.18L597.88 349.18A3.24 3.24 0 0 1 594.70 345.31Z"/><path d="M600.75 346.99L607.04 346.99A3.24 3.24 0 0 1 603.90 350.98L603.89 350.98A3.24 3.24 0 0 1 600.75 346.99Z"/><path d="M606.80 348.61L613.02 348.61A3.24 3.24 0 0 1 609.91 352.74L609.91 352.74A3.24 3.24 0 0 1 606.80 348.61Z"/><path d="M612.87 350.18L618.99 350.18A3.24 3.24 0 0 1 615.93 354.46L615.93 354.46A3.24 3.24 0 0 1 612.87 350.18Z"/><path d="M618.94 351.69L624.95 351.69A3.24 3.24 0 0 1 621.95 356.13L621.95 356.13A3.24 3.24 0 0 1 618.94 351.69Z"/><path d="M625.03 353.14L630.90 353.14A3.24 3.24 0 0 1 627.97 357.75L627.97 357.75A3.24 3.24 0 0 1 625.03 353.14Z"/><path d="M631.14 354.55L636.82 354.55A3.23 3.23 0 0 1 633.98 359.34L633.98 359.34A3.23 3.23 0 0 1 631.14 354.55Z"/><path d="M637.27 355.91L642.73 355.91A3.23 3.23 0 0 1 640.00 360.88L640.00 360.88A3.23 3.23 0 0 1 637.27 355.91Z"/><path d="M643.42 357.23L648.62 357.23A3.23 3.23 0 0 1 646.02 362.39L646.02 362.39A3.23 3.23 0 0 1 643.42 357.23Z"/><path d="M649.59 358.51L654.48 358.51A3.23 3.23 0 0 1 652.04 363.86L652.03 363.86A3.23 3.23 0 0 1 649.59 358.51Z"/><path d="M655.80 359.74L660.31 359.74A3.23 3.23 0 0 1 658.05 365.29L658.05 365.29A3.23 3.23 0 0 1 655.80 359.74Z"/><path d="M662.05 360.94L666.09 360.94A3.23 3.23 0 0 1 664.07 366.69L664.07 366.69A3.23 3.23 0 0 1 662.05 360.94Z"/><path d="M668.35 362.10L671.82 362.10A3.23 3.23 0 0 1 670.09 368.06L670.09 368.06A3.23 3.23 0 0 1 668.35 362.10Z"/><path d="M674.75 363.23L677.46 363.23A3.23 3.23 0 0 1 676.11 369.40L676.10 369.40A3.23 3.23 0 0 1 674.75 363.23Z"/><path d="M681.38 364.32L682.86 364.32A3.23 3.23 0 0 1 682.12 370.70L682.12 370.70A3.23 3.23 0 0 1 681.38 364.32Z"/><circle cx="688.14" cy="368.75" r="3.23"/><circle cx="694.16" cy="369.99" r="3.23"/><circle cx="700.18" cy="371.21" r="3.23"/><circle cx="706.19" cy="372.41" r="3.24"/><circle cx="712.21" cy="373.57" r="3.24"/><circle cx="718.23" cy="374.71" r="3.24"/><circle cx="724.25" cy="375.83" r="3.24"/><circle cx="730.26" cy="376.93" r="3.24"/><circle cx="736.28" cy="378.00" r="3.24"/><circle cx="742.30" cy="379.05" r="3.24"/><circle cx="748.32" cy="380.07" r="3.24"/><circle cx="754.33" cy="381.08" r="3.24"/><circle cx="760.35" cy="382.07" r="3.24"/><circle cx="766.37" cy="383.03" r="3.24"/><circle cx="772.38" cy="383.98" r="3.25"/><circle cx="778.40" cy="384.91" r="3.25"/><circle cx="784.42" cy="385.82" r="3.25"/><circle cx="790.44" cy="386.72" r="3.25"/><circle cx="796.46" cy="387.60" r="3.25"/><circle cx="802.47" cy="388.46" r="3.25"/><circle cx="808.49" cy="389.30" r="3.25"/><circle cx="814.51" cy="390.13" r="3.26"/><circle cx="820.52" cy="390.95" r="3.26"/><circle cx="826.54" cy="391.75" r="3.26"/><circle cx="832.56" cy="392.53" r="3.26"/><circle cx="838.58" cy="393.31" r="3.26"/><circle cx="844.60" cy="394.06" r="3.27"/><circle cx="850.61" cy="394.81" r="3.27"/><circle cx="856.63" cy="395.54" r="3.27"/><circle cx="862.65" cy="396.26" r="3.27"/><circle cx="868.67" cy="396.97" r="3.28"/><circle cx="874.68" cy="397.66" r="3.28"/><circle cx="880.70" cy="398.35" r="3.28"/><circle cx="886.72" cy="399.02" r="3.28"/><circle cx="892.74" cy="399.68" r="3.29"/><circle cx="898.75" cy="400.33" r="3.29"/><circle cx="904.77" cy="400.97" r="3.29"/><circle cx="910.79" cy="401.60" r="3.30"/><circle cx="916.81" cy="402.22" r="3.30"/><circle cx="922.82" cy="402.83" r="3.30"/><circle cx="928.84" cy="403.44" r="3.31"/><circle cx="934.86" cy="404.03" r="3.31"/><circle cx="940.88" cy="404.61" r="3.31"/><circle cx="946.89" cy="405.18" r="3.32"/><circle cx="952.91" cy="405.75" r="3.32"/><circle cx="958.93" cy="406.30" r="3.32"/><circle cx="964.95" cy="406.85" r="3.33"/><circle cx="970.96" cy="407.39" r="3.33"/><circle cx="976.98" cy="407.92" r="3.33"/><circle cx="983.00" cy="408.45" r="3.34"/><circle cx="989.01" cy="408.97" r="3.34"/><circle cx="995.03" cy="409.47" r="3.35"/><circle cx="1001.05" cy="409.98" r="3.35"/><circle cx="1007.07" cy="410.47" r="3.35"/><circle cx="1013.09" cy="410.96" r="3.36"/><circle cx="1019.10" cy="411.44" r="3.36"/><circle cx="1025.12" cy="411.91" r="3.37"/><circle cx="1031.14" cy="412.38" r="3.37"/><circle cx="1037.15" cy="412.84" r="3.37"/><circle cx="1043.17" cy="413.30" r="3.38"/><circle cx="1049.19" cy="413.75" r="3.38"/><circle cx="1055.21" cy="414.19" r="3.39"/><circle cx="1061.22" cy="414.63" r="3.39"/><circle cx="1067.24" cy="415.06" r="3.40"/><circle cx="1073.26" cy="415.49" r="3.40"/><circle cx="1079.28" cy="415.91" r="3.41"/><circle cx="1085.30" cy="416.32" r="3.41"/><circle cx="1091.31" cy="416.73" r="3.42"/><circle cx="1097.33" cy="417.13" r="3.42"/><circle cx="1103.35" cy="417.53" r="3.43"/><circle cx="1109.37" cy="417.93" r="3.43"/><circle cx="1115.38" cy="418.31" r="3.44"/></g><g fill="#b60000"><path d="M164.62 474.19L164.62 474.19A3.44 3.44 0 0 1 167.02 480.08L162.21 480.08A3.44 3.44 0 0 1 164.62 474.19Z"/><circle cx="170.63" cy="475.51" r="3.43"/><circle cx="176.65" cy="473.39" r="3.43"/><circle cx="182.67" cy="471.27" r="3.42"/><circle cx="188.69" cy="469.15" r="3.41"/><circle cx="194.70" cy="467.03" r="3.41"/><circle cx="200.72" cy="464.91" r="3.40"/><circle cx="206.74" cy="462.79" r="3.40"/><circle cx="212.76" cy="460.67" r="3.39"/><circle cx="218.77" cy="458.55" r="3.39"/><circle cx="224.79" cy="456.43" r="3.39"/><circle cx="230.81" cy="454.31" r="3.38"/><circle cx="236.83" cy="452.19" r="3.38"/><circle cx="242.84" cy="450.07" r="3.37"/><circle cx="248.86" cy="447.95" r="3.37"/><circle cx="254.88" cy="445.83" r="3.36"/><circle cx="260.90" cy="443.71" r="3.36"/><circle cx="266.91" cy="441.59" r="3.35"/><circle cx="272.93" cy="439.47" r="3.35"/><circle cx="278.95" cy="437.35" r="3.35"/><circle cx="284.97" cy="435.23" r="3.34"/><circle cx="290.99" cy="433.11" r="3.34"/><circle cx="297.00" cy="430.99" r="3.33"/><circle cx="303.02" cy="428.87" r="3.33"/><circle cx="309.04" cy="426.75" r="3.33"/><circle cx="315.06" cy="424.63" r="3.32"/><circle cx="321.07" cy="422.51" r="3.32"/><circle cx="327.09" cy="420.39" r="3.32"/><circle cx="333.11" cy="418.27" r="3.31"/><circle cx="339.12" cy="416.15" r="3.31"/><circle cx="345.14" cy="414.03" r="3.31"/><circle cx="351.16" cy="411.91" r="3.30"/><circle cx="357.18" cy="409.80" r="3.30"/><circle cx="363.19" cy="407.68" r="3.30"/><circle cx="369.21" cy="405.56" r="3.30"/><circle cx="375.23" cy="403.44" r="3.29"/><circle cx="381.25" cy="401.32" r="3.29"/><circle cx="387.26" cy="399.20" r="3.29"/><circle cx="393.28" cy="397.08" r="3.28"/><circle cx="399.30" cy="394.96" r="3.28"/><circle cx="405.32" cy="392.84" r="3.28"/><circle cx="411.34" cy="390.72" r="3.28"/><circle cx="417.35" cy="388.60" r="3.28"/><circle cx="423.37" cy="386.48" r="3.27"/><circle cx="429.39" cy="384.36" r="3.27"/><circle cx="435.40" cy="382.24" r="3.27"/><circle cx="441.42" cy="380.12" r="3.27"/><circle cx="447.44" cy="378.00" r="3.27"/><circle cx="453.46" cy="375.88" r="3.26"/><circle cx="459.48" cy="373.76" r="3.26"/><circle cx="465.49" cy="371.64" r="3.26"/><circle cx="471.51" cy="369.52" r="3.26"/><circle cx="477.53" cy="367.40" r="3.26"/><circle cx="483.54" cy="365.28" r="3.26"/><circle cx="489.56" cy="363.16" r="3.25"/><circle cx="495.58" cy="361.04" r="3.25"/><circle cx="501.60" cy="358.92" r="3.25"/><circle cx="507.62" cy="356.80" r="3.25"/><circle cx="513.63" cy="354.68" r="3.25"/><circle cx="519.65" cy="352.56" r="3.25"/><circle cx="525.67" cy="350.44" r="3.25"/><circle cx="531.68" cy="348.32" r="3.25"/><circle cx="537.70" cy="346.20" r="3.25"/><circle cx="543.72" cy="344.08" r="3.25"/><circle cx="549.74" cy="341.96" r="3.25"/><circle cx="555.75" cy="339.84" r="3.25"/><path d="M559.37 335.54L564.17 335.54A3.25 3.25 0 0 1 561.77 340.97L561.77 340.97A3.25 3.25 0 0 1 559.37 335.54Z"/><path d="M567.79 332.36L567.79 332.36A3.24 3.24 0 0 1 570.99 336.15L564.59 336.15A3.24 3.24 0 0 1 567.79 332.36Z"/><path d="M573.81 330.24L573.81 330.24A3.24 3.24 0 0 1 575.71 336.11L571.91 336.11A3.24 3.24 0 0 1 573.81 330.24Z"/><circle cx="579.83" cy="331.36" r="3.24"/><circle cx="585.84" cy="329.24" r="3.24"/><circle cx="591.86" cy="327.12" r="3.24"/><circle cx="597.88" cy="325.00" r="3.24"/><circle cx="603.89" cy="322.88" r="3.24"/><circle cx="609.91" cy="320.76" r="3.25"/><circle cx="615.93" cy="318.64" r="3.25"/><circle cx="621.95" cy="316.52" r="3.25"/><circle cx="627.97" cy="314.40" r="3.25"/><circle cx="633.98" cy="312.28" r="3.25"/><circle cx="640.00" cy="310.16" r="3.25"/><circle cx="646.02" cy="308.04" r="3.25"/><circle cx="652.03" cy="305.92" r="3.25"/><circle cx="658.05" cy="303.80" r="3.25"/><circle cx="664.07" cy="301.68" r="3.25"/><circle cx="670.09" cy="299.56" r="3.25"/><circle cx="676.11" cy="297.44" r="3.25"/><circle cx="682.12" cy="295.32" r="3.25"/><circle cx="688.14" cy="293.20" r="3.26"/><circle cx="694.16" cy="291.08" r="3.26"/><circle cx="700.18" cy="288.96" r="3.26"/><circle cx="706.19" cy="286.84" r="3.26"/><circle cx="712.21" cy="284.72" r="3.26"/><circle cx="718.23" cy="282.60" r="3.26"/><circle cx="724.25" cy="280.48" r="3.26"/><circle cx="730.26" cy="278.36" r="3.27"/><circle cx="736.28" cy="276.24" r="3.27"/><circle cx="742.30" cy="274.12" r="3.27"/><circle cx="748.32" cy="272.00" r="3.27"/><circle cx="754.33" cy="269.89" r="3.27"/><circle cx="760.35" cy="267.77" r="3.28"/><circle cx="766.37" cy="265.65" r="3.28"/><circle cx="772.38" cy="263.53" r="3.28"/><circle cx="778.40" cy="261.41" r="3.28"/><circle cx="784.42" cy="259.29" r="3.29"/><circle cx="790.44" cy="257.17" r="3.29"/><circle cx="796.46" cy="255.05" r="3.29"/><circle cx="802.47" cy="252.93" r="3.29"/><circle cx="808.49" cy="250.81" r="3.30"/><circle cx="814.51" cy="248.69" r="3.30"/><circle cx="820.52" cy="246.57" r="3.30"/><circle cx="826.54" cy="244.45" r="3.31"/><circle cx="832.56" cy="242.33" r="3.31"/><circle cx="838.58" cy="240.21" r="3.31"/><circle cx="844.60" cy="238.09" r="3.32"/><circle cx="850.61" cy="235.97" r="3.32"/><circle cx="856.63" cy="233.85" r="3.32"/><circle cx="862.65" cy="231.73" r="3.33"/><circle cx="868.67" cy="229.61" r="3.33"/><circle cx="874.68" cy="227.49" r="3.33"/><circle cx="880.70" cy="225.37" r="3.34"/><circle cx="886.72" cy="223.25" r="3.34"/><circle cx="892.74" cy="221.13" r="3.34"/><circle cx="898.75" cy="219.01" r="3.35"/><circle cx="904.77" cy="216.89" r="3.35"/><circle cx="910.79" cy="214.77" r="3.36"/><circle cx="916.81" cy="212.65" r="3.36"/><circle cx="922.82" cy="210.53" r="3.37"/><circle cx="928.84" cy="208.41" r="3.37"/><circle cx="934.86" cy="206.29" r="3.37"/><circle cx="940.88" cy="204.17" r="3.38"/><circle cx="946.89" cy="202.05" r="3.38"/><circle cx="952.91" cy="199.93" r="3.39"/><circle cx="958.93" cy="197.81" r="3.39"/><circle cx="964.95" cy="195.69" r="3.40"/><circle cx="970.96" cy="193.57" r="3.40"/><circle cx="976.98" cy="191.45" r="3.41"/><circle cx="983.00" cy="189.33" r="3.41"/><circle cx="989.01" cy="187.21" r="3.42"/><circle cx="995.03" cy="185.09" r="3.42"/><circle cx="1001.05" cy="182.97" r="3.43"/><circle cx="1007.07" cy="180.85" r="3.43"/><circle cx="1013.09" cy="178.73" r="3.44"/><circle cx="1019.10" cy="176.61" r="3.45"/><circle cx="1025.12" cy="174.49" r="3.45"/><circle cx="1031.14" cy="172.37" r="3.46"/><circle cx="1037.15" cy="170.25" r="3.46"/><circle cx="1043.17" cy="168.13" r="3.47"/><circle cx="1049.19" cy="166.01" r="3.47"/><circle cx="1055.21" cy="163.89" r="3.48"/><circle cx="1061.22" cy="161.77" r="3.49"/><circle cx="1067.24" cy="159.65" r="3.49"/><circle cx="1073.26" cy="157.53" r="3.50"/><circle cx="1079.28" cy="155.41" r="3.50"/><circle cx="1085.30" cy="153.29" r="3.51"/><circle cx="1091.31" cy="151.17" r="3.52"/><circle cx="1097.33" cy="149.05" r="3.52"/><circle cx="1103.35" cy="146.93" r="3.53"/><circle cx="1109.37" cy="144.81" r="3.54"/><circle cx="1115.38" cy="142.69" r="3.54"/></g><g fill="url(#sh)"><circle cx="158.60" cy="479.75" r="3.44"/><circle cx="164.62" cy="477.63" r="3.44"/><circle cx="164.62" cy="481.93" r="3.44"/><circle cx="170.63" cy="475.51" r="3.43"/><circle cx="170.63" cy="484.26" r="3.43"/><circle cx="176.65" cy="473.39" r="3.43"/><circle cx="176.65" cy="486.73" r="3.43"/><circle cx="182.67" cy="471.27" r="3.42"/><circle cx="182.67" cy="489.36" r="3.42"/><circle cx="188.69" cy="469.15" r="3.41"/><circle cx="188.69" cy="492.18" r="3.41"/><circle cx="194.70" cy="467.03" r="3.41"/><circle cx="194.70" cy="495.20" r="3.41"/><circle cx="200.72" cy="464.91" r="3.40"/><circle cx="200.72" cy="498.44" r="3.40"/><circle cx="206.74" cy="462.79" r="3.40"/><circle cx="206.74" cy="501.94" r="3.40"/><circle cx="212.76" cy="460.67" r="3.39"/><circle cx="212.76" cy="505.71" r="3.39"/><circle cx="218.77" cy="458.55" r="3.39"/><circle cx="218.77" cy="509.80" r="3.39"/><circle cx="224.79" cy="456.43" r="3.39"/><circle cx="224.79" cy="514.25" r="3.39"/><circle cx="230.81" cy="454.31" r="3.38"/><circle cx="230.81" cy="519.10" r="3.38"/><circle cx="236.83" cy="452.19" r="3.38"/><circle cx="236.83" cy="524.42" r="3.38"/><circle cx="242.84" cy="450.07" r="3.37"/><circle cx="242.84" cy="530.26" r="3.37"/><circle cx="248.86" cy="447.95" r="3.37"/><circle cx="248.86" cy="536.73" r="3.37"/><circle cx="254.88" cy="445.83" r="3.36"/><circle cx="254.88" cy="543.92" r="3.37"/><circle cx="260.90" cy="443.71" r="3.36"/><circle cx="260.90" cy="551.95" r="3.36"/><circle cx="266.91" cy="441.59" r="3.35"/><circle cx="266.91" cy="560.99" r="3.36"/><circle cx="272.93" cy="439.47" r="3.35"/><circle cx="272.93" cy="571.25" r="3.36"/><circle cx="278.95" cy="437.35" r="3.35"/><circle cx="278.95" cy="582.97" r="3.35"/><circle cx="284.97" cy="14.59" r="3.55"/><circle cx="284.97" cy="435.23" r="3.34"/><circle cx="284.97" cy="596.51" r="3.35"/><circle cx="290.99" cy="35.74" r="3.52"/><circle cx="290.99" cy="433.11" r="3.34"/><circle cx="290.99" cy="612.31" r="3.35"/><circle cx="297.00" cy="55.04" r="3.50"/><circle cx="297.00" cy="430.99" r="3.33"/><circle cx="297.00" cy="631.00" r="3.35"/><circle cx="303.02" cy="72.74" r="3.49"/><circle cx="303.02" cy="428.87" r="3.33"/><circle cx="303.02" cy="653.45" r="3.36"/><circle cx="309.04" cy="89.02" r="3.47"/><circle cx="309.04" cy="426.75" r="3.33"/><circle cx="309.04" cy="680.93" r="3.36"/><circle cx="315.06" cy="104.05" r="3.46"/><circle cx="315.06" cy="424.63" r="3.32"/><circle cx="315.06" cy="715.32" r="3.37"/><circle cx="321.07" cy="117.96" r="3.44"/><circle cx="321.07" cy="422.51" r="3.32"/><circle cx="321.07" cy="759.63" r="3.39"/><circle cx="327.09" cy="130.88" r="3.43"/><circle cx="327.09" cy="420.39" r="3.32"/><circle cx="327.09" cy="818.84" r="3.42"/><circle cx="333.11" cy="142.91" r="3.42"/><circle cx="333.11" cy="418.27" r="3.31"/><circle cx="333.11" cy="902.03" r="3.48"/><circle cx="339.12" cy="154.14" r="3.41"/><circle cx="339.12" cy="416.15" r="3.31"/><circle cx="345.14" cy="164.64" r="3.40"/><circle cx="345.14" cy="414.03" r="3.31"/><circle cx="351.16" cy="174.49" r="3.39"/><circle cx="351.16" cy="411.91" r="3.30"/><circle cx="357.18" cy="183.74" r="3.38"/><circle cx="357.18" cy="409.80" r="3.30"/><circle cx="363.19" cy="192.45" r="3.37"/><circle cx="363.19" cy="407.68" r="3.30"/><circle cx="369.21" cy="200.66" r="3.36"/><circle cx="369.21" cy="405.56" r="3.30"/><circle cx="375.23" cy="208.41" r="3.36"/><circle cx="375.23" cy="403.44" r="3.29"/><circle cx="381.25" cy="215.74" r="3.35"/><circle cx="381.25" cy="401.32" r="3.29"/><circle cx="387.26" cy="222.69" r="3.34"/><circle cx="387.26" cy="399.20" r="3.29"/><circle cx="393.28" cy="229.28" r="3.34"/><circle cx="393.28" cy="397.08" r="3.28"/><circle cx="399.30" cy="4.74" r="3.49"/><circle cx="399.30" cy="235.54" r="3.33"/><circle cx="399.30" cy="394.96" r="3.28"/><circle cx="405.32" cy="61.84" r="3.44"/><circle cx="405.32" cy="241.50" r="3.33"/><circle cx="405.32" cy="392.84" r="3.28"/><circle cx="411.34" cy="104.77" r="3.40"/><circle cx="411.34" cy="247.17" r="3.32"/><circle cx="411.34" cy="390.72" r="3.28"/><circle cx="417.35" cy="138.22" r="3.38"/><circle cx="417.35" cy="252.58" r="3.32"/><circle cx="417.35" cy="388.60" r="3.28"/><circle cx="423.37" cy="165.02" r="3.36"/><circle cx="423.37" cy="257.74" r="3.31"/><circle cx="423.37" cy="386.48" r="3.27"/><circle cx="429.39" cy="186.98" r="3.34"/><circle cx="429.39" cy="262.68" r="3.31"/><circle cx="429.39" cy="384.36" r="3.27"/><circle cx="435.40" cy="205.29" r="3.33"/><circle cx="435.40" cy="267.40" r="3.30"/><circle cx="435.40" cy="382.24" r="3.27"/><circle cx="441.42" cy="220.80" r="3.32"/><circle cx="441.42" cy="271.91" r="3.30"/><circle cx="441.42" cy="380.12" r="3.27"/><circle cx="447.44" cy="234.10" r="3.31"/><circle cx="447.44" cy="276.24" r="3.30"/><circle cx="447.44" cy="378.00" r="3.27"/><circle cx="453.46" cy="245.63" r="3.31"/><circle cx="453.46" cy="280.40" r="3.29"/><circle cx="453.46" cy="375.88" r="3.26"/><circle cx="459.48" cy="255.73" r="3.30"/><circle cx="459.48" cy="284.38" r="3.29"/><circle cx="459.48" cy="373.76" r="3.26"/><circle cx="465.49" cy="264.64" r="3.29"/><circle cx="465.49" cy="288.22" r="3.28"/><circle cx="465.49" cy="371.64" r="3.26"/><circle cx="471.51" cy="272.57" r="3.29"/><circle cx="471.51" cy="291.90" r="3.28"/><circle cx="471.51" cy="369.52" r="3.26"/><circle cx="477.53" cy="279.67" r="3.28"/><circle cx="477.53" cy="295.44" r="3.28"/><circle cx="477.53" cy="367.40" r="3.26"/><circle cx="483.54" cy="286.06" r="3.28"/><circle cx="483.54" cy="298.86" r="3.27"/><circle cx="483.54" cy="365.28" r="3.26"/><circle cx="489.56" cy="291.84" r="3.28"/><circle cx="489.56" cy="302.15" r="3.27"/><circle cx="489.56" cy="363.16" r="3.25"/><circle cx="495.58" cy="297.09" r="3.27"/><circle cx="495.58" cy="305.32" r="3.27"/><circle cx="495.58" cy="361.04" r="3.25"/><circle cx="501.60" cy="301.89" r="3.27"/><circle cx="501.60" cy="308.38" r="3.27"/><circle cx="501.60" cy="358.92" r="3.25"/><circle cx="507.62" cy="306.30" r="3.27"/><circle cx="507.62" cy="311.33" r="3.26"/><circle cx="507.62" cy="356.80" r="3.25"/><circle cx="513.63" cy="310.35" r="3.26"/><circle cx="513.63" cy="314.19" r="3.26"/><circle cx="513.63" cy="354.68" r="3.25"/><circle cx="519.65" cy="314.09" r="3.26"/><circle cx="519.65" cy="316.95" r="3.26"/><circle cx="519.65" cy="352.56" r="3.25"/><circle cx="525.67" cy="317.55" r="3.26"/><circle cx="525.67" cy="319.61" r="3.26"/><circle cx="525.67" cy="350.44" r="3.25"/><circle cx="531.68" cy="320.77" r="3.26"/><circle cx="531.68" cy="348.32" r="3.25"/><circle cx="537.70" cy="323.76" r="3.25"/><circle cx="537.70" cy="346.20" r="3.25"/><circle cx="543.72" cy="326.56" r="3.25"/><circle cx="543.72" cy="344.08" r="3.25"/><circle cx="549.74" cy="329.17" r="3.25"/><circle cx="549.74" cy="341.96" r="3.25"/><circle cx="555.75" cy="331.63" r="3.25"/><circle cx="555.75" cy="339.84" r="3.25"/><circle cx="561.77" cy="333.93" r="3.25"/><circle cx="561.77" cy="337.72" r="3.25"/><circle cx="567.79" cy="335.60" r="3.24"/><circle cx="573.81" cy="333.48" r="3.24"/><circle cx="573.81" cy="338.14" r="3.24"/><circle cx="579.83" cy="331.36" r="3.24"/><circle cx="579.83" cy="340.08" r="3.24"/><circle cx="585.84" cy="329.24" r="3.24"/><circle cx="585.84" cy="341.90" r="3.24"/><circle cx="591.86" cy="327.12" r="3.24"/><circle cx="591.86" cy="343.63" r="3.24"/><circle cx="597.88" cy="325.00" r="3.24"/><circle cx="597.88" cy="345.28" r="3.24"/><circle cx="603.89" cy="322.88" r="3.24"/><circle cx="603.89" cy="346.84" r="3.24"/><circle cx="609.91" cy="320.76" r="3.25"/><circle cx="609.91" cy="348.32" r="3.24"/><circle cx="615.93" cy="318.64" r="3.25"/><circle cx="615.93" cy="349.74" r="3.24"/><circle cx="621.95" cy="316.52" r="3.25"/><circle cx="621.95" cy="351.09" r="3.24"/><circle cx="621.95" cy="352.89" r="3.24"/><circle cx="627.97" cy="314.40" r="3.25"/><circle cx="627.97" cy="352.37" r="3.24"/><circle cx="627.97" cy="354.52" r="3.24"/><circle cx="633.98" cy="312.28" r="3.25"/><circle cx="633.98" cy="353.60" r="3.24"/><circle cx="633.98" cy="356.10" r="3.23"/><circle cx="640.00" cy="310.16" r="3.25"/><circle cx="640.00" cy="354.78" r="3.23"/><circle cx="640.00" cy="357.65" r="3.23"/><circle cx="646.02" cy="308.04" r="3.25"/><circle cx="646.02" cy="355.91" r="3.23"/><circle cx="646.02" cy="359.15" r="3.23"/><circle cx="652.03" cy="305.92" r="3.25"/><circle cx="652.03" cy="356.99" r="3.23"/><circle cx="652.03" cy="360.62" r="3.23"/><circle cx="658.05" cy="303.80" r="3.25"/><circle cx="658.05" cy="358.02" r="3.23"/><circle cx="658.05" cy="362.06" r="3.23"/><circle cx="664.07" cy="301.68" r="3.25"/><circle cx="664.07" cy="359.02" r="3.23"/><circle cx="664.07" cy="363.46" r="3.23"/><circle cx="670.09" cy="299.56" r="3.25"/><circle cx="670.09" cy="359.97" r="3.23"/><circle cx="670.09" cy="364.83" r="3.23"/><circle cx="676.11" cy="297.44" r="3.25"/><circle cx="676.11" cy="360.89" r="3.23"/><circle cx="676.11" cy="366.17" r="3.23"/><circle cx="682.12" cy="295.32" r="3.25"/><circle cx="682.12" cy="361.77" r="3.24"/><circle cx="682.12" cy="367.47" r="3.23"/><circle cx="688.14" cy="293.20" r="3.26"/><circle cx="688.14" cy="362.63" r="3.24"/><circle cx="688.14" cy="368.75" r="3.23"/><circle cx="694.16" cy="291.08" r="3.26"/><circle cx="694.16" cy="363.45" r="3.24"/><circle cx="694.16" cy="369.99" r="3.23"/><circle cx="700.18" cy="288.96" r="3.26"/><circle cx="700.18" cy="364.24" r="3.24"/><circle cx="700.18" cy="371.21" r="3.23"/><circle cx="706.19" cy="286.84" r="3.26"/><circle cx="706.19" cy="365.00" r="3.24"/><circle cx="706.19" cy="372.41" r="3.24"/><circle cx="712.21" cy="284.72" r="3.26"/><circle cx="712.21" cy="365.74" r="3.24"/><circle cx="712.21" cy="373.57" r="3.24"/><circle cx="718.23" cy="282.60" r="3.26"/><circle cx="718.23" cy="366.45" r="3.24"/><circle cx="718.23" cy="374.71" r="3.24"/><circle cx="724.25" cy="280.48" r="3.26"/><circle cx="724.25" cy="367.14" r="3.24"/><circle cx="724.25" cy="375.83" r="3.24"/><circle cx="730.26" cy="278.36" r="3.27"/><circle cx="730.26" cy="367.80" r="3.24"/><circle cx="730.26" cy="376.93" r="3.24"/><circle cx="736.28" cy="276.24" r="3.27"/><circle cx="736.28" cy="368.45" r="3.24"/><circle cx="736.28" cy="378.00" r="3.24"/><circle cx="742.30" cy="274.12" r="3.27"/><circle cx="742.30" cy="369.07" r="3.24"/><circle cx="742.30" cy="379.05" r="3.24"/><circle cx="748.32" cy="272.00" r="3.27"/><circle cx="748.32" cy="369.68" r="3.24"/><circle cx="748.32" cy="380.07" r="3.24"/><circle cx="754.33" cy="269.89" r="3.27"/><circle cx="754.33" cy="370.26" r="3.24"/><circle cx="754.33" cy="381.08" r="3.24"/><circle cx="760.35" cy="267.77" r="3.28"/><circle cx="760.35" cy="370.83" r="3.25"/><circle cx="760.35" cy="382.07" r="3.24"/><circle cx="766.37" cy="265.65" r="3.28"/><circle cx="766.37" cy="371.38" r="3.25"/><circle cx="766.37" cy="383.03" r="3.24"/><circle cx="772.38" cy="263.53" r="3.28"/><circle cx="772.38" cy="371.92" r="3.25"/><circle cx="772.38" cy="383.98" r="3.25"/><circle cx="778.40" cy="261.41" r="3.28"/><circle cx="778.40" cy="372.44" r="3.25"/><circle cx="778.40" cy="384.91" r="3.25"/><circle cx="784.42" cy="259.29" r="3.29"/><circle cx="784.42" cy="372.94" r="3.25"/><circle cx="784.42" cy="385.82" r="3.25"/><circle cx="790.44" cy="257.17" r="3.29"/><circle cx="790.44" cy="373.43" r="3.25"/><circle cx="790.44" cy="386.72" r="3.25"/><circle cx="796.46" cy="255.05" r="3.29"/><circle cx="796.46" cy="373.91" r="3.25"/><circle cx="796.46" cy="387.60" r="3.25"/><circle cx="802.47" cy="252.93" r="3.29"/><circle cx="802.47" cy="374.37" r="3.26"/><circle cx="802.47" cy="388.46" r="3.25"/><circle cx="808.49" cy="250.81" r="3.30"/><circle cx="808.49" cy="374.83" r="3.26"/><circle cx="808.49" cy="389.30" r="3.25"/><circle cx="814.51" cy="248.69" r="3.30"/><circle cx="814.51" cy="375.26" r="3.26"/><circle cx="814.51" cy="390.13" r="3.26"/><circle cx="820.52" cy="246.57" r="3.30"/><circle cx="820.52" cy="375.69" r="3.26"/><circle cx="820.52" cy="390.95" r="3.26"/><circle cx="826.54" cy="244.45" r="3.31"/><circle cx="826.54" cy="376.11" r="3.26"/><circle cx="826.54" cy="391.75" r="3.26"/><circle cx="832.56" cy="242.33" r="3.31"/><circle cx="832.56" cy="376.52" r="3.27"/><circle cx="832.56" cy="392.53" r="3.26"/><circle cx="838.58" cy="240.21" r="3.31"/><circle cx="838.58" cy="376.91" r="3.27"/><circle cx="838.58" cy="393.31" r="3.26"/><circle cx="844.60" cy="238.09" r="3.32"/><circle cx="844.60" cy="377.30" r="3.27"/><circle cx="844.60" cy="394.06" r="3.27"/><circle cx="850.61" cy="235.97" r="3.32"/><circle cx="850.61" cy="377.67" r="3.27"/><circle cx="850.61" cy="394.81" r="3.27"/><circle cx="856.63" cy="233.85" r="3.32"/><circle cx="856.63" cy="378.04" r="3.27"/><circle cx="856.63" cy="395.54" r="3.27"/><circle cx="862.65" cy="231.73" r="3.33"/><circle cx="862.65" cy="378.40" r="3.28"/><circle cx="862.65" cy="396.26" r="3.27"/><circle cx="868.67" cy="229.61" r="3.33"/><circle cx="868.67" cy="378.75" r="3.28"/><circle cx="868.67" cy="396.97" r="3.28"/><circle cx="874.68" cy="227.49" r="3.33"/><circle cx="874.68" cy="379.09" r="3.28"/><circle cx="874.68" cy="397.66" r="3.28"/><circle cx="880.70" cy="225.37" r="3.34"/><circle cx="880.70" cy="379.42" r="3.28"/><circle cx="880.70" cy="398.35" r="3.28"/><circle cx="886.72" cy="223.25" r="3.34"/><circle cx="886.72" cy="379.75" r="3.29"/><circle cx="886.72" cy="399.02" r="3.28"/><circle cx="892.74" cy="221.13" r="3.34"/><circle cx="892.74" cy="380.07" r="3.29"/><circle cx="892.74" cy="399.68" r="3.29"/><circle cx="898.75" cy="219.01" r="3.35"/><circle cx="898.75" cy="380.38" r="3.29"/><circle cx="898.75" cy="400.33" r="3.29"/><circle cx="904.77" cy="216.89" r="3.35"/><circle cx="904.77" cy="380.68" r="3.30"/><circle cx="904.77" cy="400.97" r="3.29"/><circle cx="910.79" cy="214.77" r="3.36"/><circle cx="910.79" cy="380.98" r="3.30"/><circle cx="910.79" cy="401.60" r="3.30"/><circle cx="916.81" cy="212.65" r="3.36"/><circle cx="916.81" cy="381.27" r="3.30"/><circle cx="916.81" cy="402.22" r="3.30"/><circle cx="922.82" cy="210.53" r="3.37"/><circle cx="922.82" cy="381.56" r="3.31"/><circle cx="922.82" cy="402.83" r="3.30"/><circle cx="928.84" cy="208.41" r="3.37"/><circle cx="928.84" cy="381.84" r="3.31"/><circle cx="928.84" cy="403.44" r="3.31"/><circle cx="934.86" cy="206.29" r="3.37"/><circle cx="934.86" cy="382.11" r="3.31"/><circle cx="934.86" cy="404.03" r="3.31"/><circle cx="940.88" cy="204.17" r="3.38"/><circle cx="940.88" cy="382.38" r="3.32"/><circle cx="940.88" cy="404.61" r="3.31"/><circle cx="946.89" cy="202.05" r="3.38"/><circle cx="946.89" cy="382.64" r="3.32"/><circle cx="946.89" cy="405.18" r="3.32"/><circle cx="952.91" cy="199.93" r="3.39"/><circle cx="952.91" cy="382.90" r="3.32"/><circle cx="952.91" cy="405.75" r="3.32"/><circle cx="958.93" cy="197.81" r="3.39"/><circle cx="958.93" cy="383.15" r="3.33"/><circle cx="958.93" cy="406.30" r="3.32"/><circle cx="964.95" cy="195.69" r="3.40"/><circle cx="964.95" cy="383.39" r="3.33"/><circle cx="964.95" cy="406.85" r="3.33"/><circle cx="970.96" cy="193.57" r="3.40"/><circle cx="970.96" cy="383.64" r="3.33"/><circle cx="970.96" cy="407.39" r="3.33"/><circle cx="976.98" cy="191.45" r="3.41"/><circle cx="976.98" cy="383.87" r="3.34"/><circle cx="976.98" cy="407.92" r="3.33"/><circle cx="983.00" cy="189.33" r="3.41"/><circle cx="983.00" cy="384.10" r="3.34"/><circle cx="983.00" cy="408.45" r="3.34"/><circle cx="989.01" cy="187.21" r="3.42"/><circle cx="989.01" cy="384.33" r="3.35"/><circle cx="989.01" cy="408.97" r="3.34"/><circle cx="995.03" cy="185.09" r="3.42"/><circle cx="995.03" cy="384.56" r="3.35"/><circle cx="995.03" cy="409.47" r="3.35"/><circle cx="1001.05" cy="182.97" r="3.43"/><circle cx="1001.05" cy="384.77" r="3.35"/><circle cx="1001.05" cy="409.98" r="3.35"/><circle cx="1007.07" cy="180.85" r="3.43"/><circle cx="1007.07" cy="384.99" r="3.36"/><circle cx="1007.07" cy="410.47" r="3.35"/><circle cx="1013.09" cy="178.73" r="3.44"/><circle cx="1013.09" cy="385.20" r="3.36"/><circle cx="1013.09" cy="410.96" r="3.36"/><circle cx="1019.10" cy="176.61" r="3.45"/><circle cx="1019.10" cy="385.41" r="3.37"/><circle cx="1019.10" cy="411.44" r="3.36"/><circle cx="1025.12" cy="174.49" r="3.45"/><circle cx="1025.12" cy="385.61" r="3.37"/><circle cx="1025.12" cy="411.91" r="3.37"/><circle cx="1031.14" cy="172.37" r="3.46"/><circle cx="1031.14" cy="385.81" r="3.37"/><circle cx="1031.14" cy="412.38" r="3.37"/><circle cx="1037.15" cy="170.25" r="3.46"/><circle cx="1037.15" cy="386.01" r="3.38"/><circle cx="1037.15" cy="412.84" r="3.37"/><circle cx="1043.17" cy="168.13" r="3.47"/><circle cx="1043.17" cy="386.20" r="3.38"/><circle cx="1043.17" cy="413.30" r="3.38"/><circle cx="1049.19" cy="166.01" r="3.47"/><circle cx="1049.19" cy="386.39" r="3.39"/><circle cx="1049.19" cy="413.75" r="3.38"/><circle cx="1055.21" cy="163.89" r="3.48"/><circle cx="1055.21" cy="386.58" r="3.39"/><circle cx="1055.21" cy="414.19" r="3.39"/><circle cx="1061.22" cy="161.77" r="3.49"/><circle cx="1061.22" cy="386.76" r="3.40"/><circle cx="1061.22" cy="414.63" r="3.39"/><circle cx="1067.24" cy="159.65" r="3.49"/><circle cx="1067.24" cy="386.94" r="3.40"/><circle cx="1067.24" cy="415.06" r="3.40"/><circle cx="1073.26" cy="157.53" r="3.50"/><circle cx="1073.26" cy="387.11" r="3.41"/><circle cx="1073.26" cy="415.49" r="3.40"/><circle cx="1079.28" cy="155.41" r="3.50"/><circle cx="1079.28" cy="387.29" r="3.41"/><circle cx="1079.28" cy="415.91" r="3.41"/><circle cx="1085.30" cy="153.29" r="3.51"/><circle cx="1085.30" cy="387.46" r="3.42"/><circle cx="1085.30" cy="416.32" r="3.41"/><circle cx="1091.31" cy="151.17" r="3.52"/><circle cx="1091.31" cy="387.63" r="3.42"/><circle cx="1091.31" cy="416.73" r="3.42"/><circle cx="1097.33" cy="149.05" r="3.52"/><circle cx="1097.33" cy="387.79" r="3.43"/><circle cx="1097.33" cy="417.13" r="3.42"/><circle cx="1103.35" cy="146.93" r="3.53"/><circle cx="1103.35" cy="387.96" r="3.43"/><circle cx="1103.35" cy="417.53" r="3.43"/><circle cx="1109.37" cy="144.81" r="3.54"/><circle cx="1109.37" cy="388.12" r="3.44"/><circle cx="1109.37" cy="417.93" r="3.43"/><circle cx="1115.38" cy="142.69" r="3.54"/><circle cx="1115.38" cy="388.27" r="3.44"/><circle cx="1115.38" cy="418.31" r="3.44"/></g>
</svg>
</body></html>
